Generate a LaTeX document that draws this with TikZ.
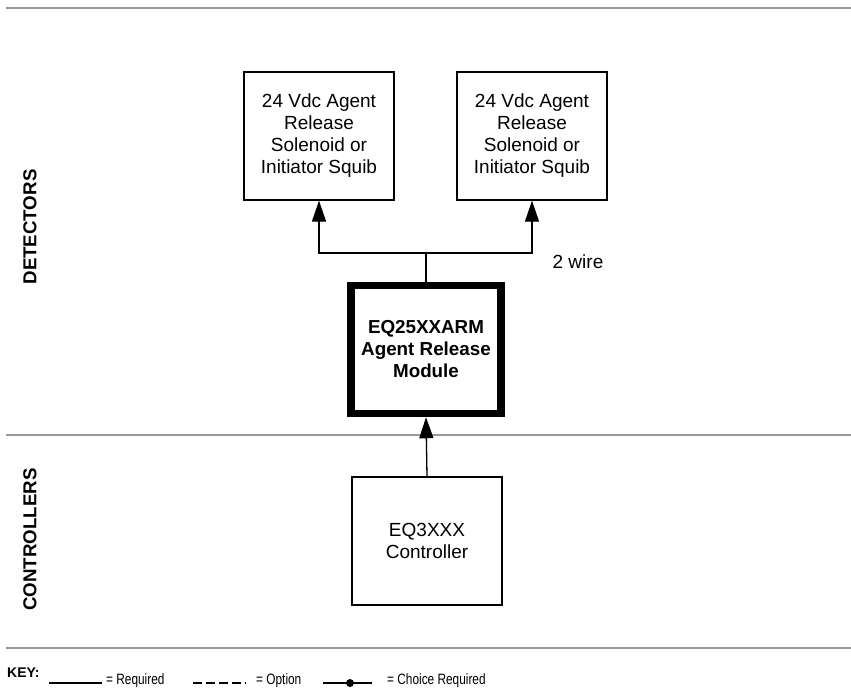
\documentclass[tikz,border=0pt]{standalone}
\usepackage{fontspec}
\setmainfont{Liberation Sans}
\newfontfamily\keyfont[FakeStretch=0.79]{Liberation Sans}
\usetikzlibrary{arrows.meta}
\begin{document}
\begin{tikzpicture}[x=1pt, y=-1pt,
    unit/.style={rectangle, draw, line width=1.3pt, minimum width=150pt, minimum height=128pt,
      inner sep=2pt, align=center, font=\fontsize{19}{22}\selectfont},
    module/.style={unit, line width=7.5pt, font=\fontsize{18.8}{22}\selectfont\bfseries},
    feed/.style={line width=1.3pt, -{Triangle[length=21pt, width=14pt]}},
    wire/.style={line width=1.3pt},
    rule/.style={line width=1.8pt, black!40},
    zone/.style={rotate=90, font=\fontsize{18.7}{20}\selectfont\bfseries},
    keytxt/.style={anchor=base west, inner sep=0pt, font=\keyfont\fontsize{15}{17}\selectfont}]
  \useasboundingbox (0,0) rectangle (851,696);
  % section rules
  \draw[rule] (6,8) -- (851,8);
  \draw[rule] (6,435) -- (851,435);
  \draw[rule] (6,648) -- (851,648);
  \node[zone] (det)  at (30,227)   {DETECTORS};
  \node[zone] (ctl)  at (30,539.5) {CONTROLLERS};
  % blocks
  \node[unit]   (solA) at (319,136) {24 Vdc Agent\\Release\\Solenoid or\\Initiator Squib};
  \node[unit]   (solB) at (532,136) {24 Vdc Agent\\Release\\Solenoid or\\Initiator Squib};
  \node[module] (arm)  at (426,349.5) {EQ25XXARM\\Agent Release\\Module};
  \node[unit]   (ctrl) at (427,541) {EQ3XXX\\Controller};
  % wiring
  \coordinate (split) at (426,253);
  \draw[wire] (arm.north) -- (split);
  \draw[feed] (split) -| (solA.south);
  \draw[feed] (split) -| (solB.south);
  \draw[feed] (ctrl.north) -- (arm.south);
  \node[font=\fontsize{19}{20}\selectfont] (twowire) at (578,262) {2 wire};
  % key
  \node[anchor=base west, inner sep=0pt, font=\fontsize{14}{16}\selectfont\bfseries] (key) at (7,677) {KEY:};
  \draw[wire] (49,683) -- (102,683);
  \node[keytxt] (req) at (106,684) {= Required};
  \draw[wire, dash pattern=on 8.6pt off 4.4pt] (193,683) -- (246,683);
  \node[keytxt] (opt) at (256,684) {= Option};
  \draw[wire] (323,683) -- (372,683);
  \fill (350,683) circle (4);
  \node[keytxt] (cho) at (387,684) {= Choice Required};
\end{tikzpicture}
\end{document}
